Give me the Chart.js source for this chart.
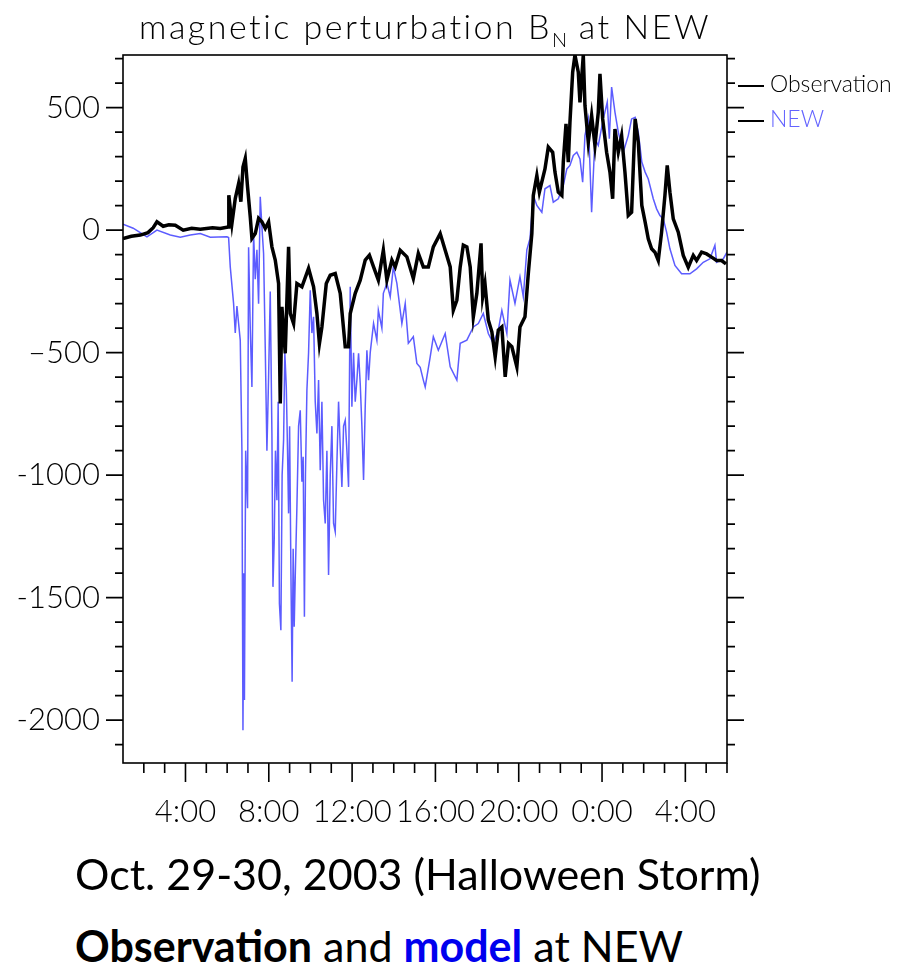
<!DOCTYPE html>
<html>
<head>
<meta charset="utf-8">
<script src="https://cdn.jsdelivr.net/npm/chart.js@4.4.0/dist/chart.umd.min.js"></script>
<style>
  body { margin: 0; background: #fff; }
  #page { position: relative; width: 907px; height: 970px; overflow: hidden; }
  #chartBox { position: absolute; left: 0; top: 0; width: 907px; height: 850px; }
  #title { position: absolute; left: 0; width: 850px; top: 5px; text-align: center;
           font-family: Lato, 'DejaVu Sans', sans-serif; font-weight: 300; font-size: 34px;
           letter-spacing: 2.5px; white-space: nowrap; color: #000; }
  #title sub { font-size: 20px; vertical-align: -8px; line-height: 0; letter-spacing: 0; }
  .leg { position: absolute; left: 738px; font-family: Lato, 'DejaVu Sans', sans-serif;
         font-weight: 300; font-size: 23px; white-space: nowrap; line-height: 24px; }
  .leg .ln { display: inline-block; width: 26px; height: 2px; background: #000;
             vertical-align: middle; margin-right: 6px; }
  .caption { position: absolute; left: 75px; font-family: Lato, 'Open Sans', sans-serif;
             font-size: 43px; color: #000; white-space: nowrap; }
  .caption b { font-weight: 700; }
</style>
</head>
<body>
<div id="page">
  <div id="chartBox"><canvas id="bnChart" width="907" height="850"></canvas></div>
  <div id="title">magnetic perturbation B<sub>N</sub> at NEW</div>
  <div class="leg" style="top:71px;"><span class="ln"></span>Observation</div>
  <div class="leg" style="top:106px; color:#6464ff;"><span class="ln"></span>NEW</div>
  <div class="caption" style="top:848px;">Oct. 29-30, 2003 (Halloween Storm)</div>
  <div class="caption" style="top:920px;"><b>Observation</b> and <b style="color:#0000ee;">model</b> at NEW</div>
</div>
<script>
// hours since 0:00 Oct 29 (UT), values in nT
var obsHours = [
  1.0, 1.4, 1.83, 2.2, 2.45, 2.63, 2.93, 3.2, 3.51, 3.89,
  4.3, 4.71, 5.3, 5.67, 6.05, 6.08, 6.23, 6.39, 6.55, 6.66,
  6.76, 6.87, 6.98, 7.11, 7.19, 7.35, 7.51, 7.67, 7.83, 7.99,
  8.15, 8.31, 8.47, 8.55, 8.63, 8.79, 8.95, 9.03, 9.19, 9.35,
  9.59, 9.91, 10.15, 10.31, 10.43, 10.55, 10.76, 10.95, 11.19, 11.43,
  11.67, 11.83, 11.91, 12.15, 12.39, 12.63, 12.83, 13.03, 13.26, 13.50,
  13.67, 13.91, 14.07, 14.31, 14.63, 14.94, 15.18, 15.42, 15.66, 15.90,
  16.23, 16.47, 16.71, 16.86, 17.03, 17.19, 17.34, 17.51, 17.67, 17.82,
  17.99, 18.19, 18.27, 18.38, 18.54, 18.71, 18.87, 19.02, 19.19, 19.35,
  19.51, 19.67, 19.91, 20.06, 20.30, 20.46, 20.63, 20.70, 20.87, 20.99,
  21.26, 21.42, 21.63, 21.74, 21.90, 22.07, 22.14, 22.27, 22.38, 22.46,
  22.59, 22.70, 22.86, 22.94, 23.10, 23.18, 23.34, 23.50, 23.66, 23.82,
  23.90, 24.03, 24.22, 24.38, 24.51, 24.62, 24.78, 24.94, 25.10, 25.26,
  25.42, 25.59, 25.74, 25.91, 26.07, 26.22, 26.38, 26.54, 26.70, 26.86,
  27.02, 27.13, 27.26, 27.42, 27.66, 27.90, 28.14, 28.38, 28.54, 28.78,
  29.02, 29.26, 29.50, 29.74, 29.95
];
var obsValues = [
  -34, -25, -20, -10, 10, 34, 16, 22, 20, 0,
  8, 4, 10, 7, 13, 143, 27, 129, 190, 116,
  258, 293, 177, 54, -34, -14, 48, 34, 7, 34,
  -68, -122, -218, -707, -313, -503, -68, -340, -381, -218,
  -231, -156, -231, -340, -463, -395, -218, -184, -177, -258,
  -476, -476, -340, -258, -204, -122, -102, -150, -204, -82,
  -204, -122, -150, -82, -109, -197, -95, -150, -150, -68,
  -14, -82, -150, -327, -286, -150, -61, -68, -150, -354,
  -258, -54, -272, -218, -367, -415, -517, -408, -395, -599,
  -463, -476, -558, -395, -354, -177, -14, 142, 223, 155,
  250, 339, 318, 237, 155, 142, 278, 434, 278, 441,
  645, 715, 645, 522, 715, 509, 359, 468, 346, 482,
  638, 454, 318, 237, 128, 413, 318, 386, 237, 60,
  73, 454, 359, 101, 33, -35, -76, -90, -124, -8,
  142, 264, 155, 46, -8, -103, -151, -103, -124, -90,
  -97, -110, -124, -124, -138
];

var modelHours = [
  1.0, 1.49, 2.15, 2.63, 3.27, 3.75, 4.23, 4.71, 5.19, 5.99,
  6.07, 6.15, 6.31, 6.39, 6.47, 6.55, 6.63, 6.71, 6.76, 6.80,
  6.83, 6.89, 6.98, 7.03, 7.11, 7.19, 7.27, 7.35, 7.43, 7.51,
  7.59, 7.67, 7.75, 7.83, 7.91, 7.99, 8.07, 8.15, 8.20, 8.26,
  8.32, 8.39, 8.45, 8.51, 8.58, 8.64, 8.71, 8.77, 8.84, 8.90,
  8.95, 9.00, 9.06, 9.12, 9.17, 9.22, 9.27, 9.35, 9.43, 9.51,
  9.59, 9.65, 9.71, 9.76, 9.83, 9.91, 9.99, 10.07, 10.15, 10.23,
  10.31, 10.39, 10.47, 10.55, 10.63, 10.71, 10.79, 10.87, 10.95, 11.03,
  11.11, 11.19, 11.27, 11.35, 11.43, 11.51, 11.59, 11.67, 11.75, 11.83,
  11.91, 11.99, 12.07, 12.15, 12.23, 12.31, 12.39, 12.47, 12.55, 12.63,
  12.71, 12.79, 12.87, 13.03, 13.19, 13.26, 13.43, 13.50, 13.67, 13.83,
  13.98, 14.15, 14.39, 14.55, 14.70, 14.94, 15.11, 15.27, 15.42, 15.51,
  15.75, 15.90, 16.14, 16.47, 16.71, 17.03, 17.19, 17.51, 17.82, 18.06,
  18.30, 18.54, 18.78, 19.02, 19.19, 19.43, 19.58, 19.82, 20.06, 20.22,
  20.39, 20.54, 20.70, 20.87, 21.11, 21.26, 21.50, 21.66, 21.90, 22.14,
  22.31, 22.46, 22.62, 22.79, 22.94, 23.07, 23.18, 23.34, 23.50, 23.66,
  23.82, 24.06, 24.25, 24.35, 24.46, 24.62, 24.78, 25.02, 25.26, 25.42,
  25.59, 25.74, 25.91, 26.07, 26.22, 26.46, 26.62, 26.78, 26.94, 27.10,
  27.26, 27.50, 27.82, 28.22, 28.54, 28.86, 29.18, 29.42, 29.50, 29.82,
  30.0
];
var modelValues = [
  24, 8, -27, 0, -20, -29, -20, -14, -29, -27,
  -30, -150, -300, -420, -310, -380, -450, -900, -2041, -1400,
  -1918, -900, -1135, -70, -400, -640, -14, -200, -80, -300,
  136, 14, -95, -480, -900, -600, -250, -830, -1456, -1265,
  -900, -1102, -700, -1524, -1633, -1000, -857, -500, -640, -900,
  -1156, -800, -1380, -1843, -1300, -1619, -1415, -1129, -800, -735,
  -1027, -925, -1578, -1000, -653, -500, -245, -420, -354, -700,
  -830, -612, -980, -700, -1102, -1197, -900, -1408, -1000, -800,
  -1197, -1231, -950, -700, -884, -1048, -800, -776, -900, -1048,
  -231, -721, -500, -700, -612, -503, -626, -800, -1020, -721,
  -490, -612, -500, -381, -450, -327, -400, -258, -217, -272,
  -150, -217, -381, -299, -462, -435, -544, -560, -612, -640,
  -517, -435, -490, -422, -558, -612, -462, -449, -395, -381,
  -340, -422, -462, -408, -327, -422, -204, -299, -190, -272,
  -80, -35, 142, 101, 73, 169, 182, 114, 128, 182,
  250, 264, 305, 318, 291, 196, 386, 454, 73, 373,
  346, 454, 522, 373, 584, 482, 400, 318, 386, 454,
  461, 400, 278, 237, 209, 128, 87, 60, 46, -8,
  -76, -144, -178, -178, -158, -131, -117, -62, -131, -117,
  -90
];

var xTickHours = [4, 8, 12, 16, 20, 24, 28];
var xTickLabels = ['4:00', '8:00', '12:00', '16:00', '20:00', '0:00', '4:00'];
var yTickValues = [500, 0, -500, -1000, -1500, -2000];
var yTickLabels = ['500', '0', '\u2013500', '-1000', '-1500', '-2000'];

var axisFont = { family: "Lato, 'DejaVu Sans', sans-serif", size: 31, weight: '300' };

function toPoints(xs, ys) {
    return xs.map((h, i) => ({ x: h, y: ys[i] }));
}

// box with outward ticks (minor every hour / every 100 nT)
const frameTicks = {
    id: 'frameTicks',
    afterDraw(chart) {
        const ctx = chart.ctx;
        const a = chart.chartArea;
        const x = chart.scales.x;
        const y = chart.scales.y;
        ctx.save();
        ctx.strokeStyle = '#000';
        ctx.lineWidth = 1.6;
        ctx.strokeRect(a.left, a.top, a.right - a.left, a.bottom - a.top);
        ctx.beginPath();
        for (let v = -2100; v <= 700; v += 100) {
            const py = y.getPixelForValue(v);
            const len = v % 500 === 0 ? 17 : 8;
            ctx.moveTo(a.left - len, py);
            ctx.lineTo(a.left, py);
            ctx.moveTo(a.right, py);
            ctx.lineTo(a.right + len, py);
        }
        for (let h = 2; h <= 30; h++) {
            const px = x.getPixelForValue(h);
            const len = h % 4 === 0 ? 19 : 10;
            ctx.moveTo(px, a.bottom);
            ctx.lineTo(px, a.bottom + len);
        }
        ctx.stroke();
        ctx.restore();
    }
};

document.addEventListener('DOMContentLoaded', (event) => {
    var ctx = document.getElementById('bnChart').getContext('2d');

    new Chart(ctx, {
        type: 'line',
        data: {
            datasets: [{
                label: 'Observation',
                data: toPoints(obsHours, obsValues),
                borderColor: '#000000',
                borderWidth: 3.5,
                pointRadius: 0,
                tension: 0,
                order: 0
            }, {
                label: 'NEW',
                data: toPoints(modelHours, modelValues),
                borderColor: '#5c5cff',
                borderWidth: 1.5,
                pointRadius: 0,
                tension: 0,
                order: 1
            }]
        },
        options: {
            responsive: false,
            animation: false,
            layout: { padding: { left: 0, top: 55, right: 180, bottom: 0 } },
            plugins: {
                legend: { display: false },
                tooltip: { enabled: false }
            },
            scales: {
                x: {
                    type: 'linear',
                    min: 1,
                    max: 30,
                    grid: { display: false, drawTicks: false },
                    border: { display: false },
                    afterBuildTicks: (scale) => { scale.ticks = xTickHours.map(v => ({ value: v })); },
                    afterFit: (scale) => { scale.height = 87; },
                    ticks: {
                        color: '#000',
                        font: axisFont,
                        padding: 30,
                        maxRotation: 0,
                        autoSkip: false,
                        callback: (value, index) => xTickLabels[index]
                    }
                },
                y: {
                    type: 'linear',
                    min: -2175,
                    max: 715,
                    grid: { display: false, drawTicks: false },
                    border: { display: false },
                    afterBuildTicks: (scale) => { scale.ticks = yTickValues.map(v => ({ value: v })); },
                    afterFit: (scale) => { scale.width = 123; },
                    ticks: {
                        color: '#000',
                        font: axisFont,
                        padding: 23,
                        autoSkip: false,
                        callback: (value, index) => yTickLabels[index]
                    }
                }
            }
        },
        plugins: [frameTicks]
    });
});
</script>
</body>
</html>
